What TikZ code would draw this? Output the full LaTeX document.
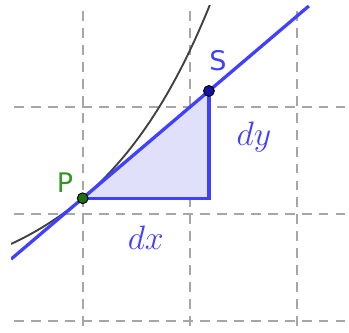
\documentclass[tikz,border=0pt]{standalone}
\usepackage{fontspec}
\newfontfamily\lblfont{DejaVu Sans}
\definecolor{ggblue}{RGB}{64,64,255}
\definecolor{ggfill}{RGB}{224,224,250}
\definecolor{gggreen}{RGB}{56,150,40}
\definecolor{ptgreen}{RGB}{30,110,20}
\definecolor{ptblue}{RGB}{20,20,160}
\begin{document}
\begin{tikzpicture}[x=1.6cm,y=1.6cm,
  gridline/.style={draw=gray!70, line width=0.7pt, dash pattern=on 4.2pt off 3pt},
  blueline/.style={draw=ggblue, line width=1.4pt},
  ptdot/.style={circle, inner sep=0pt, minimum size=4.6pt, draw=black, line width=0.4pt},
  lbl/.style={font=\lblfont\fontsize{11.5}{13}\selectfont},
  mlbl/.style={text=ggblue, font=\fontsize{14}{16}\selectfont}]
\useasboundingbox (-0.773,-1.109) rectangle (2.489,2.003);
\begin{scope}
\clip (-0.67,-1.109) rectangle (2.489,1.947);
\foreach \x in {0,1,2} \draw[gridline] (\x,-1.2) -- (\x,2.1);
\foreach \y in {-1,0,1} \draw[gridline] (-0.8,\y) -- (2.6,\y);
\coordinate (P) at (0,0.15);
\coordinate (S) at (1.18,1.153);
\coordinate (C) at (1.18,0.15);
\coordinate (L0) at (-0.67,-0.4195);
\coordinate (L1) at (2.114,1.947);
\fill[ggfill] (P) -- (S) -- (C) -- cycle;
\draw[black!75, line width=0.8pt, domain=-0.67:1.2, samples=60] plot (\x,{-0.794+0.944*exp(0.9*\x)});
\draw[blueline] (L0) -- (L1);
\draw[blueline, line join=miter] (S) -- (C) -- (P);
\end{scope}
\node[ptdot, fill=ptgreen] (Pd) at (P) {};
\node[ptdot, fill=ptblue] (Sd) at (S) {};
\node[lbl, text=gggreen] (Pl) at (-0.165,0.30) {P};
\node[lbl, text=ggblue] (Sl) at (1.265,1.44) {S};
\node[mlbl] (dx) at (0.59,-0.22) {$dx$};
\node[mlbl] (dy) at (1.60,0.72) {$dy$};
\end{tikzpicture}
\end{document}
